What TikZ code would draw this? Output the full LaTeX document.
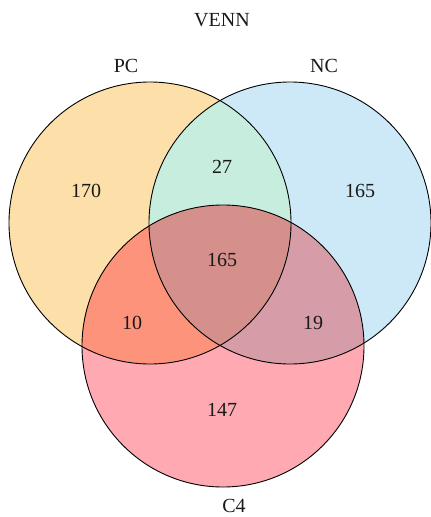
\documentclass[tikz,border=0pt]{standalone}
\usepackage{fontspec}
\setmainfont{Liberation Serif}
\definecolor{pcOnly}{RGB}{252,223,169}
\definecolor{ncOnly}{RGB}{205,233,247}
\definecolor{cfOnly}{RGB}{255,169,178}
\definecolor{pcnc}{RGB}{199,237,222}
\definecolor{pccf}{RGB}{253,147,122}
\definecolor{nccf}{RGB}{214,157,169}
\definecolor{allthree}{RGB}{214,144,139}
\begin{document}
\begin{tikzpicture}[x=1pt,y=-1pt,
  lbl/.style={font=\fontsize{20}{20}\selectfont, text=black!90, inner sep=1pt},
  ring/.style={draw=black, line width=0.9pt}]
\useasboundingbox (0,0) rectangle (431,517);
\def\pcC{(150,223) circle (141)}
\def\ncC{(290,223) circle (141)}
\def\cfC{(223,346) circle (141)}
% single-set fills
\fill[pcOnly] \pcC;
\fill[ncOnly] \ncC;
\fill[cfOnly] \cfC;
% pairwise overlaps
\begin{scope}\clip \pcC; \fill[pcnc] \ncC; \end{scope}
\begin{scope}\clip \pcC; \fill[pccf] \cfC; \end{scope}
\begin{scope}\clip \ncC; \fill[nccf] \cfC; \end{scope}
% triple overlap
\begin{scope}\clip \pcC; \clip \ncC; \fill[allthree] \cfC; \end{scope}
% outlines
\draw[ring] \pcC;
\draw[ring] \ncC;
\draw[ring] \cfC;
% titles
\node[lbl] (title) at (222,20) {VENN};
\node[lbl] (pc) at (126,66) {PC};
\node[lbl] (nc) at (324,66) {NC};
\node[lbl] (c4) at (234,506) {C4};
% counts
\node[lbl] (a) at (86,191) {170};
\node[lbl] (ab) at (222,167) {27};
\node[lbl] (b) at (360,191) {165};
\node[lbl] (abc) at (222,260) {165};
\node[lbl] (ac) at (132,323) {10};
\node[lbl] (bc) at (313,323) {19};
\node[lbl] (c) at (222,410) {147};
\end{tikzpicture}
\end{document}
